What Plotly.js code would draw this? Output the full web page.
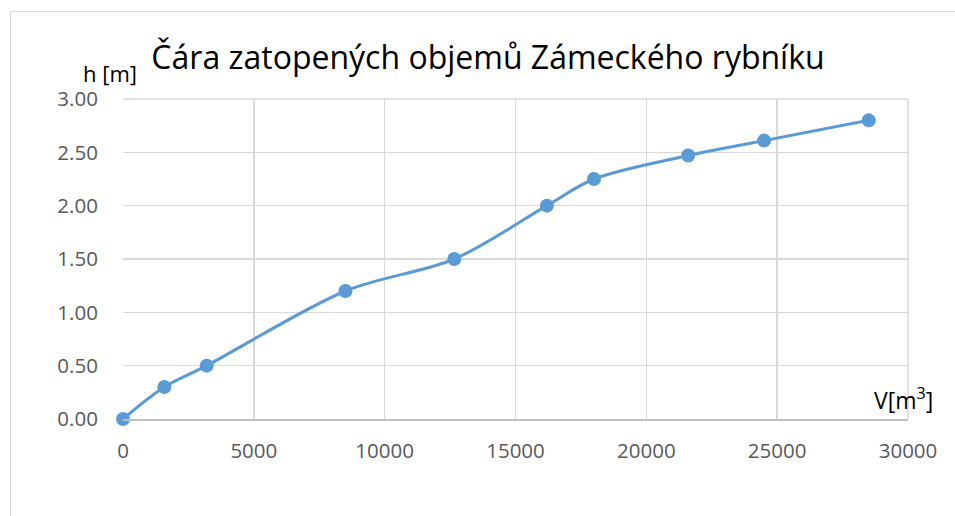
<!DOCTYPE html>
<html>
<head>
<meta charset="utf-8">
<script src="https://cdn.plot.ly/plotly-3.0.1.min.js"></script>
<style>
html,body{margin:0;padding:0;background:#fff;}
#wrap{position:relative;width:955px;height:516px;}
#chart{position:absolute;left:0;top:0;width:955px;height:516px;}
#frame{position:absolute;left:10px;top:11px;right:-2px;bottom:-2px;border-left:1px solid #d9d9d9;border-top:1px solid #d9d9d9;pointer-events:none;}
</style>
</head>
<body>
<div id="wrap"><div id="chart"></div><div id="frame"></div></div>
<script>
// Volume V [m3]
const volumes = [0, 1580, 3200, 8500, 12660, 16200, 18000, 21600, 24500, 28500];
// Water level h [m]
const heights = [0, 0.30, 0.50, 1.20, 1.50, 2.00, 2.25, 2.47, 2.61, 2.80];
const xTicks = [0, 5000, 10000, 15000, 20000, 25000, 30000];
const yTicks = [0, 0.5, 1.0, 1.5, 2.0, 2.5, 3.0];
const titleText = 'Čára zatopených objemů Zámeckého rybníku';
const yLabel = 'h [m]';
const xLabel = 'V[m<sup>3</sup>]';

const font = '"Open Sans", "Noto Sans", sans-serif';

const trace = {
  x: volumes,
  y: heights,
  type: 'scatter',
  mode: 'lines+markers',
  line: {color: '#5b9bd5', width: 3, shape: 'spline', smoothing: 0.9},
  marker: {color: '#5b9bd5', size: 14},
  cliponaxis: false,
  hoverinfo: 'x+y'
};

const layout = {
  width: 955, height: 516,
  margin: {l: 123, r: 47, t: 99, b: 97},
  paper_bgcolor: '#ffffff',
  plot_bgcolor: '#ffffff',
  showlegend: false,
  title: {
    text: titleText,
    font: {family: font, size: 32, color: '#000000'},
    xref: 'container', x: 0.511, xanchor: 'center',
    yref: 'container', y: 0.888, yanchor: 'middle'
  },
  xaxis: {
    range: [0, 30000],
    tickvals: xTicks,
    ticktext: xTicks.map(String),
    showgrid: true, gridcolor: '#d9d9d9', gridwidth: 1.5,
    zeroline: false,
    showline: true, linecolor: '#bfbfbf', linewidth: 1.5,
    ticks: 'outside', ticklen: 13, tickcolor: 'rgba(0,0,0,0)',
    tickfont: {family: font, size: 20.5, color: '#595959'},
    fixedrange: true
  },
  yaxis: {
    range: [0, 3],
    tickvals: yTicks,
    ticktext: yTicks.map(v => v.toFixed(2)),
    showgrid: true, gridcolor: '#d9d9d9', gridwidth: 1.5,
    zeroline: false,
    showline: false,
    ticks: 'outside', ticklen: 20, tickcolor: 'rgba(0,0,0,0)',
    tickfont: {family: font, size: 20.5, color: '#595959'},
    fixedrange: true
  },
  shapes: [
    {type: 'line', xref: 'paper', yref: 'paper', x0: 1, x1: 1, y0: 0, y1: 1, line: {color: '#d9d9d9', width: 1.5}},
    {type: 'line', xref: 'paper', yref: 'paper', x0: 0, x1: 1, y0: 1, y1: 1, line: {color: '#d9d9d9', width: 1.5}}
  ],
  annotations: [
    {text: yLabel, xref: 'paper', yref: 'paper', x: -0.016, y: 1.082, xanchor: 'center', yanchor: 'middle', showarrow: false,
     borderpad: 0, font: {family: font, size: 22, color: '#000000'}},
    {text: xLabel, xref: 'paper', yref: 'paper', x: 0.994, y: 0.064, xanchor: 'center', yanchor: 'middle', showarrow: false,
     font: {family: font, size: 23, color: '#000000'}}
  ]
};

Plotly.newPlot('chart', [trace], layout, {displayModeBar: false, staticPlot: true});
</script>
</body>
</html>
